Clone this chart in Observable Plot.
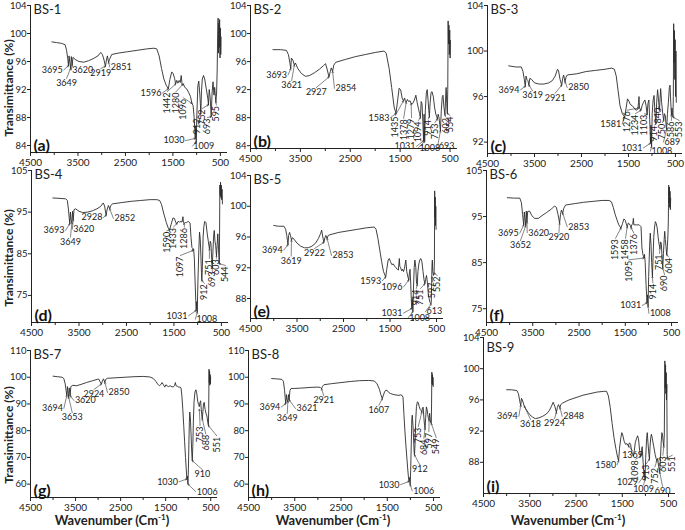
<!DOCTYPE html>
<html><head><meta charset="utf-8">
<script src="https://cdn.jsdelivr.net/npm/d3@7"></script>
<script src="https://cdn.jsdelivr.net/npm/@observablehq/plot@0.6"></script>
<style>
body{margin:0;background:#fff;}
#wrap{position:relative;width:685px;height:530px;overflow:hidden;font-family:Lato,"Open Sans",sans-serif;color:#222;}
.ytitle{position:absolute;font-weight:bold;font-size:12px;white-space:nowrap;transform:translate(-50%,-50%) rotate(-90deg);}
.xtitle{position:absolute;font-weight:bold;font-size:13px;white-space:nowrap;transform:translate(-50%,-50%);}
.xtitle sup{font-size:8px;}
</style></head><body><div id="wrap"></div>
<script>
// ---------- data ----------
const names = ["BS-1","BS-2","BS-3","BS-4","BS-5","BS-6","BS-7","BS-8","BS-9"];
const tags = ["(a)","(b)","(c)","(d)","(e)","(f)","(g)","(h)","(i)"];
const xMajor = [4500,3500,2500,1500,500];
const xMinor = [4000,3000,2000,1000];
const yDomains = [[83,104],[83.6,104],[91,104],[68.5,105],[85.4,104],[72,105],[55,110],[55,110],[84,104]];
const yTicks = [[84,88,92,96,100,104],[84,88,92,96,100,104],[92,96,100,104],[75,85,95,105],[88,92,96,100,104],[75,85,95,105],[60,70,80,90,100,110],[60,70,80,90,100,110],[88,92,96,100,104]];

const bs1 = [[4050,98.8],[3950,98.7],[3850,98.6],[3770,98.4],[3740,97.6],[3715,96.4],[3700,95.4],[3688,96.8],[3672,95.9],[3655,95.0],[3640,96.7],[3622,95.5],[3605,96.6],[3560,96.3],[3480,96.0],[3380,95.9],[3280,96.1],[3180,96.4],[3080,96.8],[3020,97.3],[2985,97.0],[2950,96.2],[2922,95.3],[2900,96.2],[2880,96.8],[2855,95.9],[2835,96.3],[2790,97.0],[2650,97.2],[2450,97.4],[2250,97.6],[2050,97.8],[1900,97.9],[1840,97.8],[1790,96.8],[1740,95.0],[1690,93.5],[1640,92.6],[1596,92.1],[1565,93.4],[1525,94.5],[1495,94.3],[1465,93.6],[1442,92.8],[1420,93.3],[1395,92.9],[1370,93.3],[1345,93.0],[1325,94.0],[1305,92.6],[1280,92.8],[1250,92.3],[1210,92.1],[1170,91.6],[1130,91.0],[1105,90.2],[1096,90.0],[1075,89.7],[1055,88.2],[1040,86.5],[1030,85.0],[1018,86.8],[1009,84.5],[995,88.5],[975,92.5],[955,93.2],[935,91.5],[922,90.0],[912,88.5],[898,91.8],[880,93.5],[855,94.0],[830,93.5],[800,92.2],[775,91.2],[760,90.5],[752,89.8],[735,92.0],[715,90.8],[700,89.0],[693,88.1],[675,91.5],[655,93.1],[635,91.2],[620,92.3],[605,91.0],[595,90.2],[580,91.5],[568,94.5],[558,99.5],[548,102.2],[540,97.2],[532,101.5],[524,98.0],[516,102.0],[508,96.5],[500,100.8],[492,97.0],[485,99.5]];
const bs2 = [[4050,97.7],[3900,97.7],[3780,97.6],[3740,97.0],[3710,95.8],[3693,95.0],[3680,96.5],[3650,96.2],[3621,95.5],[3600,95.8],[3550,95.0],[3480,94.3],[3400,93.9],[3320,94.0],[3220,94.4],[3120,94.9],[3040,95.4],[2995,95.7],[2960,94.8],[2927,93.8],[2900,94.6],[2880,95.1],[2854,94.6],[2830,95.5],[2790,95.9],[2600,96.3],[2400,96.7],[2200,97.0],[2000,97.3],[1820,97.5],[1780,97.2],[1720,95.0],[1670,92.3],[1620,89.5],[1583,88.6],[1550,90.5],[1520,92.2],[1490,92.0],[1460,90.8],[1435,90.4],[1410,90.8],[1395,90.3],[1378,90.2],[1355,90.6],[1330,90.3],[1300,90.4],[1279,90.0],[1250,90.0],[1215,90.5],[1185,91.2],[1160,90.2],[1130,89.2],[1110,88.6],[1094,88.0],[1078,90.3],[1062,90.0],[1045,87.5],[1031,84.7],[1020,88.5],[1008,84.6],[995,89.0],[975,91.5],[958,92.0],[940,90.5],[925,89.0],[914,88.1],[900,90.0],[880,91.6],[860,91.7],[835,91.0],[810,89.5],[785,88.5],[770,88.2],[753,87.8],[738,88.5],[720,88.0],[705,87.0],[693,86.1],[675,89.0],[655,91.0],[640,91.2],[622,89.5],[602,88.4],[590,90.5],[578,92.3],[565,90.0],[554,88.6],[545,92.0],[538,101.8],[530,98.5],[522,101.2],[514,97.0],[506,100.5],[498,96.5],[490,99.0]];
const bs3 = [[4050,98.7],[3900,98.6],[3780,98.6],[3745,98.2],[3720,97.6],[3700,97.0],[3694,96.9],[3680,97.8],[3660,97.5],[3640,97.4],[3619,97.0],[3600,97.6],[3560,97.5],[3500,97.2],[3400,97.1],[3300,97.1],[3200,97.2],[3120,97.4],[3060,97.8],[3010,98.4],[2990,98.3],[2955,97.5],[2921,97.0],[2900,97.6],[2880,97.9],[2850,97.3],[2830,97.7],[2800,97.9],[2600,98.0],[2400,98.2],[2200,98.3],[2000,98.4],[1860,98.5],[1800,98.4],[1760,97.8],[1720,96.5],[1680,95.2],[1630,94.5],[1581,94.2],[1550,95.0],[1520,95.8],[1490,95.6],[1460,95.3],[1420,95.2],[1380,95.0],[1340,94.8],[1300,94.9],[1285,95.5],[1276,96.0],[1265,95.0],[1250,94.9],[1234,94.8],[1210,95.2],[1180,95.5],[1150,95.7],[1125,95.2],[1103,94.4],[1085,95.4],[1065,95.7],[1048,94.0],[1031,91.9],[1020,93.5],[1008,91.6],[995,94.5],[975,95.7],[955,96.1],[935,94.5],[914,93.6],[900,95.5],[880,96.6],[862,95.8],[850,95.2],[840,94.8],[828,95.8],[815,96.7],[795,95.5],[770,94.5],[750,93.9],[735,94.5],[715,94.3],[700,93.5],[689,93.1],[670,94.5],[650,95.5],[630,96.8],[615,97.0],[600,95.5],[586,94.4],[575,95.0],[563,94.6],[553,94.2],[545,96.0],[538,102.4],[530,99.0],[522,101.8],[514,97.5],[506,101.0],[498,96.0],[490,100.0],[482,95.5]];
const bs4 = [[4050,98.4],[3900,98.3],[3780,98.2],[3745,97.8],[3720,95.5],[3705,93.5],[3693,92.2],[3680,95.0],[3665,93.0],[3649,92.5],[3635,95.2],[3620,93.2],[3605,95.6],[3570,95.8],[3500,95.2],[3420,94.9],[3320,95.0],[3220,95.3],[3120,95.8],[3040,96.4],[2990,97.2],[2960,96.5],[2940,95.0],[2928,94.2],[2910,95.5],[2880,96.6],[2852,95.8],[2830,96.6],[2790,97.0],[2600,97.3],[2400,97.6],[2200,97.8],[2000,98.0],[1860,98.0],[1800,97.8],[1760,96.8],[1710,94.5],[1660,92.5],[1620,91.2],[1590,90.8],[1560,92.0],[1520,93.6],[1490,93.5],[1460,92.5],[1433,92.3],[1410,92.8],[1380,92.6],[1350,92.8],[1330,92.6],[1310,93.9],[1300,92.6],[1286,92.3],[1260,92.5],[1230,92.5],[1200,92.8],[1180,92.6],[1160,92.4],[1140,89.0],[1120,86.5],[1105,86.3],[1097,85.8],[1085,86.2],[1070,84.0],[1050,77.0],[1031,71.4],[1020,73.5],[1008,71.0],[995,78.0],[975,86.0],[960,90.2],[945,88.5],[930,84.0],[920,80.5],[912,78.6],[900,82.0],[885,89.0],[870,91.5],[850,92.8],[825,92.5],[800,90.0],[775,88.0],[760,86.8],[751,86.2],[735,88.0],[720,87.5],[705,84.0],[693,81.8],[680,85.0],[665,89.0],[650,90.6],[635,88.0],[620,87.0],[603,84.5],[590,87.0],[575,89.8],[560,86.0],[544,82.6],[538,90.0],[532,101.5],[525,99.0],[518,102.2],[510,98.5],[502,101.5],[494,98.0],[486,100.5],[478,97.0]];
const bs5 = [[4000,97.5],[3900,97.4],[3780,97.4],[3745,97.0],[3720,96.2],[3705,95.5],[3694,95.0],[3680,96.2],[3660,96.6],[3640,96.2],[3619,95.6],[3600,95.9],[3560,95.7],[3500,95.2],[3420,94.8],[3340,94.6],[3260,94.6],[3180,94.8],[3100,95.2],[3040,95.8],[2990,96.5],[2970,96.9],[2945,96.0],[2922,95.3],[2900,95.9],[2880,96.2],[2853,95.8],[2830,96.2],[2790,96.3],[2600,96.6],[2400,96.8],[2200,97.0],[2000,97.2],[1840,97.3],[1800,97.0],[1760,95.8],[1720,94.3],[1680,92.8],[1640,91.5],[1593,90.8],[1570,91.8],[1540,93.0],[1515,93.2],[1490,92.8],[1460,92.4],[1430,92.5],[1400,92.2],[1370,92.0],[1345,91.8],[1320,91.7],[1300,93.2],[1290,92.2],[1270,92.0],[1250,91.6],[1230,91.8],[1210,91.5],[1190,91.9],[1160,93.0],[1140,91.5],[1115,90.8],[1096,90.4],[1085,91.2],[1070,91.8],[1055,90.0],[1040,87.5],[1031,86.7],[1020,88.0],[1008,86.3],[995,89.5],[980,92.0],[965,93.0],[945,92.0],[930,90.0],[914,89.8],[900,91.5],[880,92.5],[860,93.0],[840,93.2],[815,92.8],[790,91.5],[770,90.5],[751,89.9],[735,90.5],[715,91.0],[695,90.0],[675,88.5],[660,88.0],[640,87.5],[625,87.3],[613,87.5],[605,90.0],[598,92.2],[590,93.0],[580,91.5],[565,91.0],[552,91.3],[545,93.0],[540,102.0],[534,98.6],[528,101.2],[522,97.5],[516,100.0],[510,97.0]];
const bs6 = [[4050,99.1],[3900,99.0],[3780,99.0],[3745,98.0],[3720,95.5],[3705,94.0],[3695,93.2],[3682,96.0],[3668,94.5],[3652,93.0],[3640,96.2],[3625,93.8],[3610,96.1],[3570,96.2],[3520,95.2],[3460,94.6],[3380,94.6],[3300,95.2],[3200,95.9],[3100,96.6],[3030,97.3],[2990,97.0],[2955,95.5],[2920,93.6],[2900,95.5],[2880,96.4],[2853,95.7],[2830,96.8],[2790,97.5],[2600,97.8],[2400,98.1],[2200,98.3],[2000,98.5],[1850,98.5],[1800,98.2],[1760,97.0],[1720,95.5],[1680,94.3],[1640,93.2],[1593,92.5],[1560,93.5],[1530,94.5],[1500,94.2],[1480,93.4],[1458,92.8],[1435,93.6],[1410,93.4],[1390,93.0],[1376,92.6],[1360,93.2],[1340,93.4],[1325,94.6],[1315,93.2],[1290,93.2],[1260,93.2],[1230,93.2],[1200,93.2],[1180,93.0],[1160,92.8],[1140,88.2],[1120,86.8],[1105,86.3],[1095,86.0],[1085,86.8],[1070,85.0],[1050,80.0],[1031,76.3],[1020,78.0],[1008,75.6],[995,82.0],[975,88.5],[960,91.4],[945,89.0],[930,85.0],[914,82.0],[900,86.0],[885,90.5],[870,92.5],[850,93.9],[830,93.5],[810,92.5],[790,90.5],[770,89.0],[751,88.2],[735,89.5],[720,89.0],[705,86.0],[690,83.8],[675,87.0],[660,90.0],[648,91.8],[635,90.0],[620,88.5],[604,86.7],[590,88.5],[578,91.0],[570,94.0],[562,101.8],[555,98.0],[548,101.4],[540,97.0],[533,100.5],[526,96.5],[519,99.0]];
const bs7 = [[4000,100.4],[3900,100.2],[3800,100.0],[3760,99.5],[3730,97.5],[3710,95.0],[3694,93.1],[3680,96.5],[3665,94.0],[3653,92.5],[3640,96.0],[3620,93.1],[3605,96.5],[3560,97.0],[3480,96.8],[3380,97.3],[3260,98.0],[3120,98.7],[3020,99.2],[2985,99.3],[2955,98.3],[2924,97.5],[2905,98.6],[2880,99.4],[2850,98.1],[2830,99.2],[2790,99.6],[2600,99.8],[2400,100.0],[2200,100.2],[2000,100.3],[1850,100.1],[1780,99.6],[1720,98.5],[1680,97.5],[1640,96.8],[1610,97.2],[1580,98.0],[1550,97.2],[1520,96.3],[1495,97.2],[1470,96.8],[1440,96.5],[1400,96.8],[1360,96.4],[1330,96.4],[1300,97.0],[1285,98.0],[1270,96.8],[1240,96.6],[1210,96.3],[1180,96.3],[1160,96.0],[1140,93.0],[1120,88.0],[1100,82.0],[1080,76.0],[1060,70.0],[1045,66.0],[1030,61.9],[1018,63.0],[1006,60.0],[995,66.0],[985,75.0],[975,83.0],[965,87.0],[950,84.0],[935,78.0],[922,72.0],[910,68.8],[898,74.0],[885,84.0],[870,91.0],[850,94.5],[830,95.3],[810,94.0],[790,91.0],[770,89.8],[753,89.0],[740,90.5],[725,91.2],[710,88.0],[695,85.2],[688,84.4],[675,87.0],[660,90.0],[645,90.6],[625,88.0],[605,86.5],[585,85.5],[565,83.0],[551,81.9],[545,88.0],[538,103.0],[532,98.0],[526,102.2],[520,97.0],[514,101.0],[508,97.5],[502,100.0]];
const bs8 = [[4000,99.5],[3900,99.4],[3780,99.2],[3745,98.5],[3720,95.0],[3705,92.0],[3694,90.1],[3680,93.5],[3665,91.5],[3649,90.8],[3635,93.5],[3621,91.5],[3605,95.0],[3580,95.8],[3500,95.8],[3400,95.9],[3300,96.0],[3150,96.2],[3000,96.3],[2950,96.2],[2921,95.7],[2900,96.6],[2870,97.2],[2700,97.6],[2500,98.0],[2300,98.4],[2100,98.7],[1900,98.8],[1780,98.6],[1720,97.5],[1670,95.5],[1640,93.5],[1607,92.0],[1590,93.0],[1560,94.5],[1530,95.2],[1500,95.0],[1470,94.3],[1430,93.9],[1380,93.6],[1330,93.4],[1290,93.3],[1250,93.2],[1210,93.4],[1180,93.2],[1160,92.5],[1140,86.0],[1120,80.0],[1100,75.0],[1080,70.5],[1060,66.0],[1045,63.0],[1030,61.0],[1018,62.5],[1006,59.8],[995,65.0],[982,75.0],[970,84.0],[960,85.8],[945,82.0],[930,76.0],[920,72.0],[912,70.9],[900,75.0],[885,84.0],[870,89.0],[850,90.8],[830,90.5],[810,89.0],[790,88.0],[770,87.5],[753,87.0],[740,88.5],[725,88.8],[710,85.0],[695,82.0],[684,80.8],[670,85.0],[655,88.9],[640,88.0],[625,86.0],[610,84.5],[597,84.0],[585,86.5],[570,84.0],[560,82.9],[549,82.7],[543,90.0],[537,101.9],[531,97.5],[525,101.0],[519,97.0],[513,100.0],[507,96.5]];
const bs9 = [[4000,97.3],[3900,97.3],[3780,97.2],[3745,96.8],[3720,96.0],[3705,95.5],[3694,95.3],[3680,96.2],[3660,96.0],[3640,95.6],[3618,95.2],[3600,95.0],[3560,94.6],[3500,94.1],[3440,93.8],[3380,93.6],[3300,93.7],[3220,93.9],[3140,94.2],[3080,94.6],[3030,95.2],[2995,95.7],[2960,95.2],[2924,94.4],[2905,95.0],[2880,95.4],[2848,95.0],[2830,95.4],[2790,95.6],[2650,96.0],[2500,96.3],[2350,96.6],[2200,96.8],[2050,97.0],[1900,97.1],[1840,97.1],[1800,96.5],[1760,95.0],[1720,93.0],[1680,91.2],[1640,89.8],[1600,88.6],[1580,88.2],[1560,89.8],[1530,91.2],[1510,91.8],[1490,91.5],[1460,90.7],[1430,90.3],[1400,90.4],[1369,90.1],[1345,90.5],[1320,90.3],[1300,89.5],[1280,89.0],[1260,88.8],[1240,89.5],[1220,90.5],[1195,91.0],[1170,91.4],[1150,91.0],[1125,89.5],[1110,88.9],[1098,88.8],[1085,89.5],[1070,90.0],[1050,88.0],[1029,86.3],[1020,87.0],[1009,85.8],[995,88.5],[975,91.0],[960,91.8],[945,90.5],[925,89.0],[913,88.4],[900,90.0],[885,91.2],[870,91.6],[850,91.0],[820,90.0],[790,89.0],[770,88.5],[752,88.2],[735,88.5],[715,87.5],[700,87.0],[690,86.7],[675,88.5],[660,90.5],[645,91.8],[630,91.5],[615,90.5],[603,90.1],[592,91.5],[580,101.0],[572,97.5],[565,100.5],[558,96.8],[551,99.5],[545,96.0],[538,98.0],[530,89.0],[520,88.5],[510,88.3]];

// peak labels: [text, peak wavenumber, peak T, label wavenumber, label T, kind]
const ann1 = [["3695",3700,95.4,3800,94.8,"L"],["3649",3655,95.0,3740,93.6,"B"],["3620",3622,95.5,3640,94.8,"R"],["2919",2922,95.3,3020,95.0,"B"],["2851",2855,95.9,2830,95.2,"R"],["1596",1596,92.1,1720,91.5,"L"],["1442",1442,92.8,1616,91.7,"V"],["1280",1280,92.8,1433,91.7,"V"],["1096",1096,90.0,1279,90.8,"V"],["1030",1030,85.0,1237,84.7,"L"],["1009",1009,84.5,1090,83.9,"R"],["912",912,88.5,984,88.0,"V"],["752",752,89.8,879,89.3,"V"],["693",693,88.1,774,88.0,"V"],["595",595,90.2,584,89.8,"V"]];
const ann2 = [["3693",3693,95.0,3747,94.1,"L"],["3621",3621,95.5,3675,93.3,"B"],["2927",2927,93.8,3180,92.3,"B"],["2854",2854,94.6,2817,92.2,"R"],["1583",1583,88.6,1694,88.0,"L"],["1435",1435,90.4,1596,88.3,"V"],["1378",1378,90.2,1430,87.9,"V"],["1279",1279,90.0,1271,88.0,"V"],["1094",1094,88.0,1134,87.6,"V"],["1031",1031,84.7,1173,83.9,"L"],["1008",1008,84.6,1134,83.7,"R"],["914",914,88.1,936,87.8,"V"],["753",753,87.8,803,87.3,"V"],["693",693,86.1,745,84.0,"R"],["602",602,88.4,587,88.1,"V"],["554",554,88.6,500,88.3,"V"]];
const ann3 = [["3694",3694,96.9,3798,96.6,"L"],["3619",3619,97.0,3540,96.5,"B"],["2921",2921,97.0,3060,96.3,"B"],["2850",2850,97.3,2804,96.8,"R"],["1581",1581,94.2,1634,93.6,"L"],["1276",1276,95.0,1528,94.8,"V"],["1234",1234,94.8,1351,94.5,"V"],["1103",1103,94.4,1160,94.5,"V"],["1031",1031,91.9,1181,91.5,"L"],["1008",1008,91.6,1032,91.2,"R"],["914",914,93.6,947,93.5,"V"],["840",840,94.8,862,95.1,"V"],["750",750,93.9,777,93.7,"V"],["689",689,93.1,755,92.0,"R"],["586",586,94.4,585,93.9,"V"],["553",553,94.2,420,93.9,"V"]];
const ann4 = [["3693",3693,92.2,3784,90.6,"L"],["3649",3649,92.5,3679,89.0,"B"],["3620",3620,93.2,3640,90.9,"R"],["2928",2928,94.2,2984,93.7,"L"],["2852",2852,95.8,2774,93.5,"R"],["1590",1590,90.8,1650,90.5,"V"],["1433",1433,92.3,1510,91.4,"V"],["1286",1286,92.3,1278,91.4,"V"],["1097",1097,85.8,1363,84.6,"V"],["1031",1031,71.4,1194,70.1,"L"],["1008",1008,71.0,1047,69.3,"R"],["912",912,78.6,858,77.9,"V"],["751",751,86.2,753,83.9,"V"],["693",693,81.8,689,81.0,"V"],["603",603,84.5,605,83.9,"V"],["544",544,82.6,416,82.2,"V"]];
const ann5 = [["3694",3694,95.0,3784,94.3,"L"],["3619",3619,95.6,3625,93.5,"B"],["2922",2922,95.3,3124,94.5,"B"],["2853",2853,95.8,2758,93.6,"R"],["1593",1593,90.8,1668,90.3,"L"],["1096",1096,90.4,1210,89.5,"L"],["1031",1031,86.7,1210,86.1,"L"],["1008",1008,86.3,1109,85.5,"R"],["914",914,89.8,937,89.3,"V"],["751",751,89.9,844,89.3,"V"],["613",613,87.3,737,86.3,"R"],["597",597,90.8,586,90.2,"V"],["552",552,91.3,485,91.0,"V"]];
const ann6 = [["3695",3695,93.2,3780,91.4,"L"],["3652",3652,93.0,3765,89.8,"B"],["3620",3625,93.8,3620,91.5,"R"],["2920",2920,93.6,2936,91.5,"B"],["2853",2853,95.7,2755,92.8,"R"],["1593",1593,92.5,1711,90.3,"V"],["1458",1458,92.8,1495,90.3,"V"],["1376",1376,92.6,1315,91.4,"V"],["1095",1095,86.0,1423,85.6,"V"],["1031",1031,76.3,1134,75.7,"L"],["1008",1008,75.6,990,74.0,"R"],["914",914,82.0,904,80.6,"V"],["751",751,88.2,760,87.0,"V"],["690",690,83.8,652,82.4,"V"],["604",604,86.7,560,86.2,"V"]];
const ann7 = [["3694",3694,93.1,3759,88.4,"L"],["3653",3653,92.5,3574,86.8,"B"],["3620",3620,93.1,3537,91.3,"R"],["2924",2924,97.5,3093,95.4,"B"],["2850",2850,98.1,2790,94.3,"R"],["1030",1030,61.9,1204,60.9,"L"],["1006",1006,60.0,833,57.2,"R"],["910",910,68.8,685,65.4,"B"],["753",753,88.0,737,81.9,"V"],["688",688,84.4,611,78.8,"V"],["551",551,81.9,367,78.1,"V"]];
const ann8 = [["3694",3694,90.1,3790,88.9,"L"],["3649",3649,91.0,3663,86.4,"B"],["3621",3621,91.5,3484,88.3,"R"],["2921",2921,95.7,2872,93.0,"B"],["1607",1607,92.0,1683,89.5,"B"],["1030",1030,61.0,1214,59.8,"L"],["1006",1006,59.8,961,57.5,"R"],["912",912,70.9,795,67.2,"B"],["753",753,87.0,831,81.5,"V"],["684",684,80.8,709,77.1,"V"],["597",597,84.0,601,79.6,"V"],["549",549,82.7,442,77.4,"V"]];
const ann9 = [["3694",3694,95.3,3737,93.9,"L"],["3618",3618,95.2,3484,93.5,"B"],["2924",2924,94.4,2965,93.6,"B"],["2848",2848,95.0,2799,93.9,"R"],["1580",1580,88.2,1609,87.7,"L"],["1369",1369,90.1,1278,89.5,"B"],["1098",1098,88.8,1214,88.4,"V"],["913",913,88.4,983,87.8,"V"],["1029",1029,86.3,1141,85.4,"L"],["1009",1009,85.8,1040,85.1,"B"],["752",752,88.2,796,87.4,"V"],["690",690,86.7,630,84.9,"B"],["603",603,90.1,623,88.9,"V"],["551",551,88.5,420,88.9,"V"]];

const spectra = [bs1,bs2,bs3,bs4,bs5,bs6,bs7,bs8,bs9];
const notes = [ann1,ann2,ann3,ann4,ann5,ann6,ann7,ann8,ann9];

// ---------- layout (page pixels: left, right, top, bottom of each plot frame) ----------
const frames = [[30,227,5,152],[250,457,5,148],[487,682,5,153],[31,228,170,322],[250,443,175,318],[486,678,170,322],[30,217,350,497],[248,440,350,497],[483,675,337,493]];
const FONT = "Lato, 'Open Sans', sans-serif";
const ink = "#222";
const wrap = document.getElementById("wrap");

function draw(i){
  const [L,R,T,B] = frames[i];
  const mL=36, mR=8, mT=6, mB=22;
  const yd = yDomains[i];
  const ann = notes[i].map(([label,px,py,lx,ly,kind]) => ({label,px,py,lx,ly,kind}));
  const pts = spectra[i].map(([x,y]) => ({x,y}));
  const by = k => ann.filter(d => d.kind === k);
  const tx = {x:"lx", y:"ly", text:"label", fontSize:9, fill:ink};
  const svg = Plot.plot({
    width:(R-L)+mL+mR, height:(B-T)+mT+mB,
    marginLeft:mL, marginRight:mR, marginTop:mT, marginBottom:mB,
    style:{fontFamily:FONT, fontSize:"10px", color:ink, background:"transparent", overflow:"visible"},
    x:{domain:[4500,350], label:null},
    y:{domain:yd, label:null},
    marks:[
      Plot.axisX(xMinor, {tickSize:3, tickFormat:()=>"", label:null, stroke:ink}),
      Plot.axisX(xMajor, {tickSize:4, tickPadding:2, tickFormat:d=>String(d), label:null, fontSize:10, stroke:ink, fill:ink}),
      Plot.axisY(yTicks[i], {tickSize:3, tickPadding:1, tickFormat:d=>String(d), label:null, fontSize:9.5, stroke:ink, fill:ink}),
      Plot.ruleX([4500], {stroke:ink, strokeWidth:1}),
      Plot.ruleY([yd[0]], {stroke:ink, strokeWidth:1}),
      Plot.line(pts, {x:"x", y:"y", stroke:"#2b2b2b", strokeWidth:0.9}),
      Plot.arrow(ann, {x1:"lx", y1:"ly", x2:"px", y2:"py", stroke:"#333", strokeWidth:0.6, headLength:3.5, bend:0}),
      Plot.text(by("L"), {...tx, textAnchor:"end", dx:-1}),
      Plot.text(by("R"), {...tx, textAnchor:"start", dx:1}),
      Plot.text(by("B"), {...tx, lineAnchor:"top", dy:1}),
      Plot.text(by("V"), {...tx, rotate:-90, textAnchor:"end", dy:1}),
      Plot.text([names[i]], {frameAnchor:"top-left", dx:3, dy:i===8 ? 5 : -1, lineAnchor:"top", fontSize:13, fill:ink}),
      Plot.text([tags[i]], {frameAnchor:"bottom-left", dx:3, dy:-2, lineAnchor:"bottom", fontSize:16, fontWeight:"bold", fill:"#111"})
    ]
  });
  svg.style.position = "absolute";
  svg.style.left = (L-mL)+"px";
  svg.style.top = (T-mT)+"px";
  svg.style.overflow = "visible";
  wrap.appendChild(svg);
}
for (let i=0;i<9;i++) draw(i);

// axis titles
[[8,88],[8,258],[8,435]].forEach(([x,y]) => {
  const d = document.createElement("div");
  d.className = "ytitle"; d.textContent = "Transimittance (%)";
  d.style.left = x+"px"; d.style.top = y+"px";
  wrap.appendChild(d);
});
[[112,520],[333,520],[568,520]].forEach(([x,y]) => {
  const d = document.createElement("div");
  d.className = "xtitle"; d.innerHTML = "Wavenumber (Cm<sup>-1</sup>)";
  d.style.left = x+"px"; d.style.top = y+"px";
  wrap.appendChild(d);
});
</script></body></html>
